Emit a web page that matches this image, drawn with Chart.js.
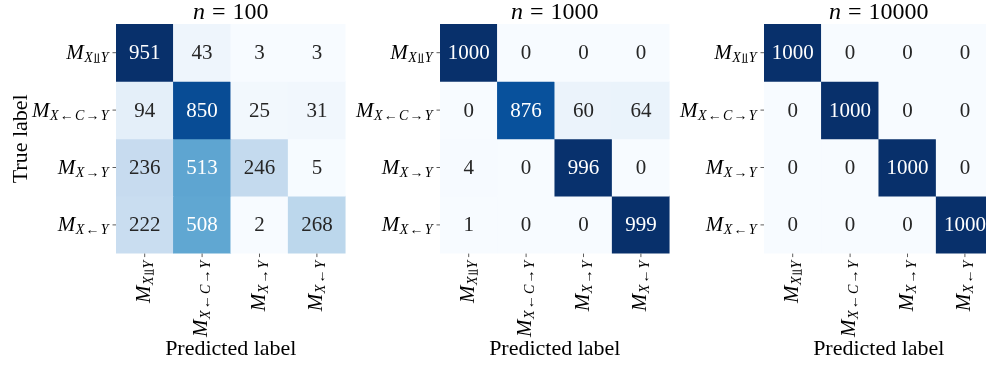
<!DOCTYPE html>
<html lang="en">
<head>
<meta charset="UTF-8">
<title>Confusion matrices</title>
<script src="https://cdn.jsdelivr.net/npm/chart.js@4.4.0/dist/chart.umd.min.js"></script>
<style>
  html, body {margin: 0; padding: 0; background: #fff; overflow: hidden; width: 986px; height: 367px;}
  canvas {position: absolute; top: 0;}
</style>
</head>
<body>
<canvas id="c0" width="360" height="367" style="left:0px"></canvas>
<canvas id="c1" width="360" height="367" style="left:324px"></canvas>
<canvas id="c2" width="360" height="367" style="left:648px"></canvas>
<script>
// models, used both as true (rows) and predicted (columns) labels
const classes = ['X⫫Y', 'X←C→Y', 'X→Y', 'X←Y'];
const sampleSizes = ['100', '1000', '10000'];

const cm100 = [
    [951, 43, 3, 3],
    [94, 850, 25, 31],
    [236, 513, 246, 5],
    [222, 508, 2, 268]
];
const cm1000 = [
    [1000, 0, 0, 0],
    [0, 876, 60, 64],
    [4, 0, 996, 0],
    [1, 0, 0, 999]
];
const cm10000 = [
    [1000, 0, 0, 0],
    [0, 1000, 0, 0],
    [0, 0, 1000, 0],
    [0, 0, 0, 1000]
];
const matrices = [cm100, cm1000, cm10000];

const SERIF = "'Liberation Serif', 'Times New Roman', serif";
const MATH = "'Liberation Serif', 'DejaVu Serif', 'DejaVu Sans', serif";

// matplotlib "Blues"
const blues = ['#f7fbff', '#deebf7', '#c6dbef', '#9ecae1', '#6baed6', '#4292c6', '#2171b5', '#08519c', '#08306b'];
const bluesRgb = blues.map(h => [1, 3, 5].map(i => parseInt(h.slice(i, i + 2), 16)));

function cmap(t) {
    t = Math.max(0, Math.min(1, t)) * (bluesRgb.length - 1);
    const i = Math.min(Math.floor(t), bluesRgb.length - 2), f = t - i;
    return bluesRgb[i].map((c, k) => Math.round(c + (bluesRgb[i + 1][k] - c) * f));
}
function luminance(rgb) {
    const l = rgb.map(c => {
        c /= 255;
        return c <= 0.03928 ? c / 12.92 : Math.pow((c + 0.055) / 1.055, 2.4);
    });
    return 0.2126 * l[0] + 0.7152 * l[1] + 0.0722 * l[2];
}

// M_{label} drawn as main letter + subscript
const MAIN = 21, SUB = 14, SUBDROP = 3;
function subParts(label) {
    return [...label].map(ch => {
        const it = /[A-Z]/.test(ch);
        return {t: ch, it: it, pad: /[←→]/.test(ch) ? 1.2 : 0};
    });
}
function mathWidth(ctx, label) {
    ctx.font = 'italic ' + MAIN + 'px ' + SERIF;
    let w = ctx.measureText('M').width + 0.5;
    subParts(label).forEach(p => {
        ctx.font = (p.it ? 'italic ' : '') + SUB + 'px ' + MATH;
        w += ctx.measureText(p.t).width + 2 * p.pad;
    });
    return w;
}
function drawMath(ctx, label, x, y) {
    ctx.textAlign = 'left';
    ctx.textBaseline = 'alphabetic';
    ctx.font = 'italic ' + MAIN + 'px ' + SERIF;
    ctx.fillText('M', x, y);
    x += ctx.measureText('M').width + 0.5;
    subParts(label).forEach(p => {
        ctx.font = (p.it ? 'italic ' : '') + SUB + 'px ' + MATH;
        x += p.pad;
        ctx.fillText(p.t, x, y + SUBDROP);
        x += ctx.measureText(p.t).width + p.pad;
    });
}

const confusionPlugin = {
    id: 'confusion',
    afterDatasetsDraw(chart, args, opts) {
        const ctx = chart.ctx, a = chart.chartArea;
        const xs = chart.scales.x, ys = chart.scales.y;
        ctx.save();

        // cell annotations
        chart.data.datasets.forEach((ds, r) => {
            chart.getDatasetMeta(r).data.forEach((bar, c) => {
                ctx.fillStyle = ds.textColors[c];
                ctx.font = '21px ' + SERIF;
                ctx.textAlign = 'center';
                ctx.textBaseline = 'middle';
                ctx.fillText(String(ds.counts[c]), bar.x, (bar.y + bar.base) / 2 + 1);
            });
        });

        ctx.fillStyle = '#000';
        ctx.strokeStyle = '#333';
        ctx.lineWidth = 0.8;

        // y ticks and labels
        classes.forEach((lab, r) => {
            const py = ys.getPixelForValue(r + 0.5);
            ctx.beginPath();
            ctx.moveTo(a.left - 3.5, py);
            ctx.lineTo(a.left, py);
            ctx.stroke();
            const w = mathWidth(ctx, lab);
            drawMath(ctx, lab, a.left - 7.5 - w, py + 6.5);
        });

        // x ticks and rotated labels
        classes.forEach((lab, c) => {
            const px = xs.getPixelForValue(c);
            ctx.beginPath();
            ctx.moveTo(px, a.bottom);
            ctx.lineTo(px, a.bottom + 3.5);
            ctx.stroke();
            const w = mathWidth(ctx, lab);
            ctx.save();
            ctx.translate(px + 5, a.bottom + 7);
            ctx.rotate(-Math.PI / 2);
            drawMath(ctx, lab, -w, 0);
            ctx.restore();
        });

        // title  n = N
        const cx = (a.left + a.right) / 2;
        ctx.textBaseline = 'alphabetic';
        ctx.textAlign = 'left';
        ctx.font = 'italic 24px ' + SERIF;
        const wn = ctx.measureText('n').width;
        ctx.font = '24px ' + SERIF;
        const weq = ctx.measureText('=').width, wnum = ctx.measureText(opts.n).width;
        const gap = 7;
        let tx = cx - (wn + weq + wnum + 2 * gap) / 2;
        ctx.font = 'italic 24px ' + SERIF;
        ctx.fillText('n', tx, 18.5);
        tx += wn + gap;
        ctx.font = '24px ' + SERIF;
        ctx.fillText('=', tx, 18.5);
        tx += weq + gap;
        ctx.fillText(opts.n, tx, 18.5);

        // axis titles
        ctx.font = '22px ' + SERIF;
        ctx.textAlign = 'center';
        ctx.fillText('Predicted label', cx, 355);
        if (opts.panel === 0) {
            ctx.save();
            ctx.translate(26.5, (a.top + a.bottom) / 2);
            ctx.rotate(-Math.PI / 2);
            ctx.fillText('True label', 0, 0);
            ctx.restore();
        }
        ctx.restore();
    }
};

matrices.forEach((m, p) => {
    const flat = m.flat();
    const lo = Math.min(...flat), hi = Math.max(...flat);
    new Chart('c' + p, {
        type: 'bar',
        data: {
            labels: classes,
            datasets: m.map((row, r) => {
                const rgb = row.map(v => cmap((v - lo) / (hi - lo)));
                return {
                    data: row.map(() => [r, r + 1]),
                    counts: row,
                    backgroundColor: rgb.map(c => 'rgb(' + c.join(',') + ')'),
                    textColors: rgb.map(c => luminance(c) > 0.408 ? '#262626' : '#ffffff'),
                    grouped: false,
                    barPercentage: 1,
                    categoryPercentage: 1,
                    borderWidth: 0
                };
            })
        },
        options: {
            responsive: false,
            animation: false,
            layout: {padding: {left: 116, top: 24, right: 14.4, bottom: 113.4}},
            plugins: {
                legend: {display: false},
                tooltip: {enabled: false},
                confusion: {panel: p, n: sampleSizes[p]}
            },
            scales: {
                x: {display: false, offset: true},
                y: {display: false, min: 0, max: 4, reverse: true}
            }
        },
        plugins: [confusionPlugin]
    });
});
</script>
</body>
</html>
